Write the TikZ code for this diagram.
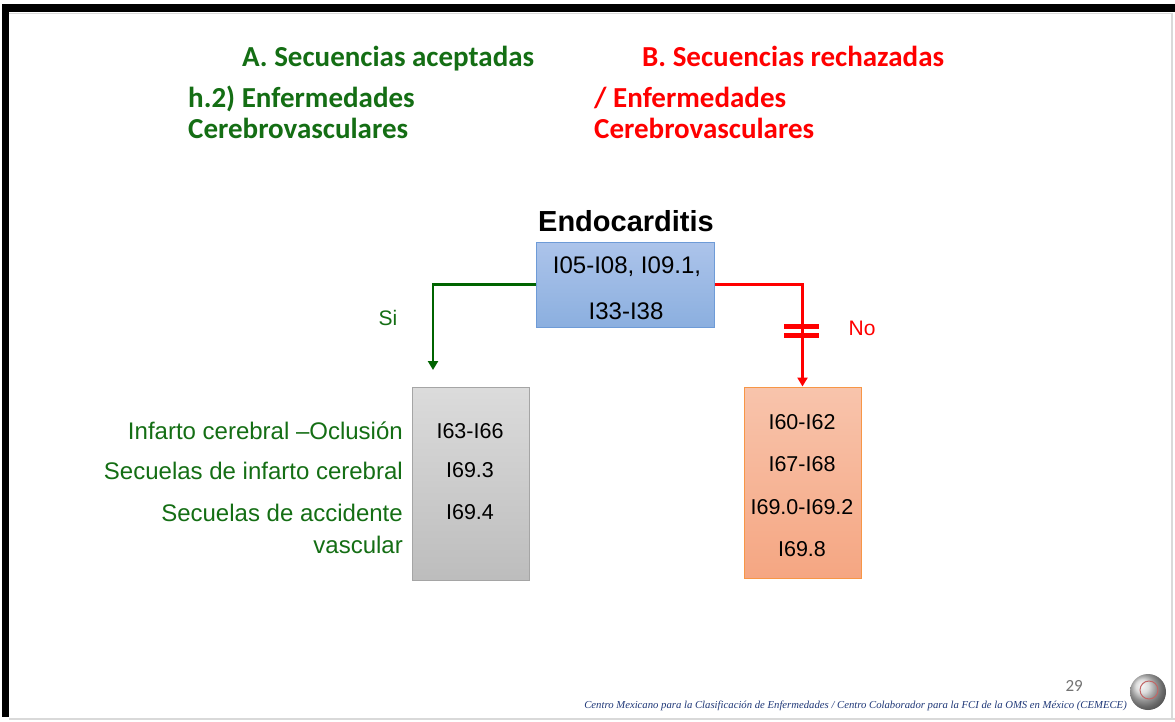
\documentclass[tikz,border=0pt]{standalone}
\usepackage{fontspec}
\setmainfont{Liberation Sans}
\newfontfamily\titlefont{Carlito}
\newfontfamily\footfont{Liberation Serif}
\usetikzlibrary{arrows.meta}
\definecolor{verde}{RGB}{20,110,20}
\definecolor{verdelinea}{RGB}{0,100,0}
\definecolor{rojo}{RGB}{255,0,0}
\definecolor{azulborde}{RGB}{110,155,215}
\definecolor{grisborde}{RGB}{165,165,165}
\definecolor{naranjaborde}{RGB}{247,150,70}
\definecolor{salmonarriba}{RGB}{248,196,172}
\definecolor{salmonabajo}{RGB}{245,166,130}
\definecolor{pie}{RGB}{31,56,120}
\begin{document}
\begin{tikzpicture}[x=1pt,y=-1pt,
	titulo/.style={inner sep=0pt,anchor=base west,font=\titlefont\bfseries\fontsize{29}{33}\selectfont},
	cod/.style={inner sep=0pt,font=\fontsize{21.5}{24}\selectfont},
	etiq/.style={inner sep=0pt,anchor=east,text=verde,font=\fontsize{24}{28}\selectfont},
	flecha/.style={line width=2.7pt,-{Triangle[width=10pt,length=9pt]}}]
	\useasboundingbox (0,0) rectangle (1175,721);
	\fill[white] (0,0) rectangle (1175,721);
	
	% marco de la diapositiva
	\fill[black] (2,4) rectangle (1175,12);
	\fill[black] (2,4) rectangle (9,717);
	\draw[black!15,line width=1.5pt] (9,13.5) -- (1172,13.5) -- (1172,719) (9,719) -- (1175,719);
	
	\node[titulo,text=verde] (TitA) at (242,66) {A. Secuencias aceptadas};
	\node[titulo,text=rojo] (TitB) at (642,66) {B. Secuencias rechazadas};
	\node[titulo,text=verde] (SubA1) at (188,107) {h.2) Enfermedades};
	\node[titulo,text=verde] (SubA2) at (188,138) {Cerebrovasculares};
	\node[titulo,text=rojo] (SubB1) at (594,107) {/ Enfermedades};
	\node[titulo,text=rojo] (SubB2) at (594,138) {Cerebrovasculares};
	
	\node[inner sep=0pt,anchor=base,font=\bfseries\fontsize{29}{33}\selectfont] (Tema) at (626,231) {Endocarditis};
	\node[draw=azulborde,line width=1pt,top color=blue!5!azulborde!55,bottom color=azulborde!80,minimum width=178pt,minimum height=85pt] (Endo) at (625.5,284.5) {};
	\node[inner sep=0pt,font=\fontsize{24}{28}\selectfont] (Endo1) at (627,266.5) {I05-I08, I09.1,};
	\node[inner sep=0pt,font=\fontsize{24}{28}\selectfont] (Endo2) at (626,311) {I33-I38};
	
	\node[draw=grisborde,line width=1pt,top color=black!14,bottom color=black!26,minimum width=117pt,minimum height=193pt] (Acep) at (470.5,483.5) {};
	\node[cod] (A1) at (470,431) {I63-I66};
	\node[cod] (A2) at (470,470.5) {I69.3};
	\node[cod] (A3) at (470,512) {I69.4};
	
	\node[draw=naranjaborde,line width=1pt,top color=salmonarriba,bottom color=salmonabajo,minimum width=117pt,minimum height=191pt] (Rech) at (802.5,482.5) {};
	\node[cod] (B1) at (802,422) {I60-I62};
	\node[cod] (B2) at (802,464.5) {I67-I68};
	\node[cod] (B3) at (802,507) {I69.0-I69.2};
	\node[cod] (B4) at (802,549.5) {I69.8};
	
	\node[etiq] (L1) at (403,431) {Infarto cerebral –Oclusión};
	\node[etiq] (L2) at (403,471) {Secuelas de infarto cerebral};
	\node[etiq] (L3) at (403,513) {Secuelas de accidente};
	\node[etiq] (L4) at (403,545) {vascular};
	
	\coordinate (SiFin) at (433,370);
	\draw[flecha,verdelinea] (Endo.west) -| (SiFin);
	\draw[flecha,rojo] (Endo.east) -| (Rech.north);
	\draw[rojo,line width=5pt] (784,326.5) -- (819,326.5);
	\draw[rojo,line width=5pt] (784,335.5) -- (819,335.5);
	\node[text=verde,font=\fontsize{21}{24}\selectfont] (Si) at (388,318) {Si};
	\node[text=rojo,font=\fontsize{21}{24}\selectfont] (No) at (862,328) {No};
	
	\node[inner sep=0pt,anchor=base east,text=black!55,font=\titlefont\fontsize{17}{20}\selectfont] (Num) at (1083,691) {29};
	\node[inner sep=0pt,anchor=base east,text=pie,font=\footfont\itshape\fontsize{10.7}{13}\selectfont] (Pie) at (1127,708) {Centro Mexicano para la Clasificación de Enfermedades / Centro Colaborador para la FCI de la OMS en México (CEMECE)};
	\shade[ball color=black!18] (1148,692) circle (18);
	\draw[rojo!60!black!60,line width=1pt] (1149,690) circle (9);
\end{tikzpicture}
\end{document}
